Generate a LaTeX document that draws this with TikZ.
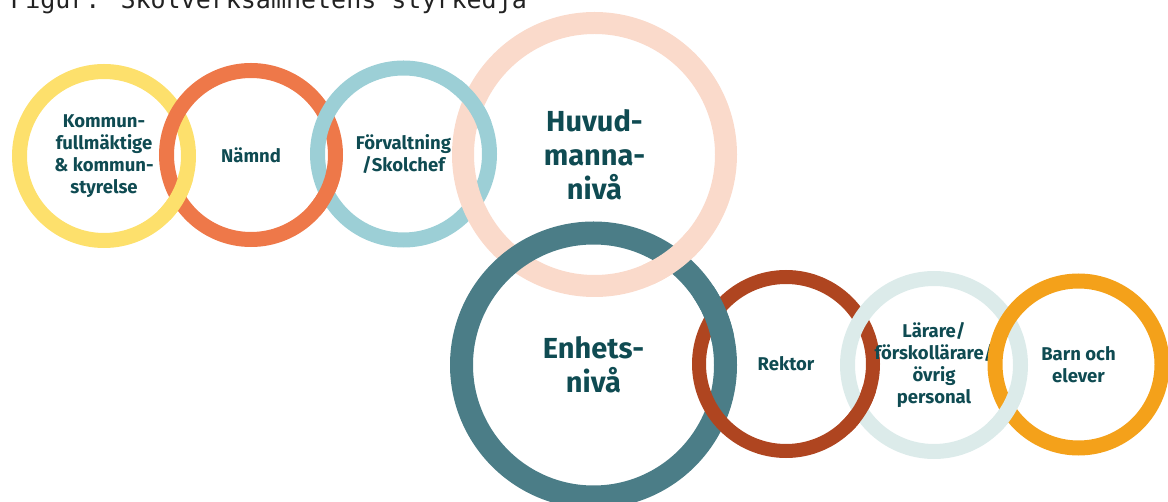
\documentclass[tikz,border=0pt]{standalone}
\usepackage{fontspec}
\setmainfont{Fira Sans}
\newfontfamily\titlefont{DejaVu Sans Mono}
\usetikzlibrary{calc}
\definecolor{ringyellow}{HTML}{FDE06C}
\definecolor{ringorange}{HTML}{EE7849}
\definecolor{ringlteal}{HTML}{9CCFD6}
\definecolor{ringpeach}{HTML}{FADACB}
\definecolor{ringdteal}{HTML}{4B7D87}
\definecolor{ringrust}{HTML}{AF4520}
\definecolor{ringpale}{HTML}{DCEBEA}
\definecolor{ringgold}{HTML}{F4A11A}
\definecolor{ringtext}{HTML}{0F4B52}
\definecolor{titlegray}{HTML}{222222}

\begin{document}
\begin{tikzpicture}[x=1pt, y=1pt,
    ring/.style={circle, inner sep=0pt, align=center, text=ringtext,
      font=\bfseries\fontsize{18.5}{22}\selectfont},
    bigring/.style={ring, font=\bfseries\fontsize{29}{34}\selectfont}]
    \useasboundingbox (0,0) rectangle (1168,501);
    % Title (cut at the top edge)
    \node[anchor=base west, inner sep=0pt, text=titlegray,
      font=\titlefont\fontsize{25}{30}\selectfont] (title) at (10,492.5)
      {Figur: Skolverksamhetens styrkedja};
    % Upper chain
    \node[ring, draw=ringyellow, line width=15pt, minimum size=169pt] (kf) at (104,345)
      {Kommun-\\fullmäktige\\\& kommun-\\styrelse};
    \node[ring, draw=ringorange, line width=15pt, minimum size=169pt] (namnd) at (251,346)
      {Nämnd};
    \node[ring, draw=ringlteal, line width=15pt, minimum size=172pt] (forv) at (403.5,347)
      {Förvaltning\\/Skolchef};
    \node[bigring, draw=ringpeach, line width=22pt, minimum size=263pt] (huvud) at (594.5,346.5)
      {Huvud-\\manna-\\nivå};
    % Lower chain
    \node[bigring, draw=ringdteal, line width=23pt, minimum size=264pt] (enhet) at (593.5,136)
      {Enhets-\\nivå};
    \node[ring, draw=ringrust, line width=14pt, minimum size=174pt] (rektor) at (786,137)
      {Rektor};
    \node[ring, draw=ringpale, line width=15pt, minimum size=173pt] (larare) at (934,136)
      {Lärare/\\förskollärare/\\övrig\\personal};
    \node[ring, draw=ringgold, line width=15pt, minimum size=167pt] (barn) at (1078.5,136.5)
      {Barn och\\elever};
    % Crossings where the earlier ring lies on top
    \begin{scope}
      \clip (177.5,304) circle (24);
      \draw[ringyellow, line width=15pt] (kf.center) circle (84.5);
    \end{scope}
    \begin{scope}
      \clip (326.4,308.5) circle (24);
      \draw[ringorange, line width=15pt] (namnd.center) circle (84.5);
    \end{scope}
    \begin{scope}
      \clip (473.1,397.5) circle (26);
      \draw[ringlteal, line width=15pt] (forv.center) circle (86);
    \end{scope}
    \begin{scope}
      \clip (674,241) circle (32);
      \draw[ringpeach, line width=22pt] (huvud.center) circle (131.5);
    \end{scope}
    \begin{scope}
      \clip (715,187) circle (28);
      \draw[ringdteal, line width=23pt] (enhet.center) circle (132);
    \end{scope}
    \begin{scope}
      \clip (860,91) circle (24);
      \draw[ringrust, line width=14pt] (rektor.center) circle (87);
    \end{scope}
    \begin{scope}
      \clip (1008,91) circle (24);
      \draw[ringpale, line width=15pt] (larare.center) circle (86.5);
    \end{scope}
\end{tikzpicture}
\end{document}
